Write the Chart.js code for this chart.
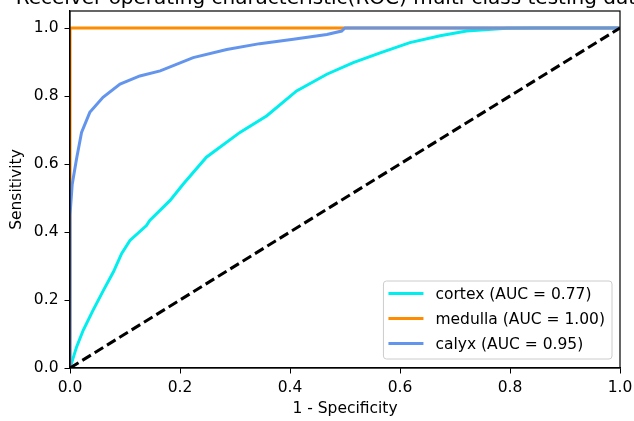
<!DOCTYPE html>
<html>
<head>
<meta charset="utf-8">
<script src="https://cdn.jsdelivr.net/npm/chart.js@4/dist/chart.umd.min.js"></script>
<style>
  body { margin: 0; background: #fff; }
  canvas { display: block; }
</style>
</head>
<body>
<canvas id="roc" width="634" height="421"></canvas>
<script>
// values
const xTickVals = [0, 0.2, 0.4, 0.6, 0.8, 1.0];
const yTickVals = [0, 0.2, 0.4, 0.6, 0.8, 1.0];

const cortexFpr = [0, 0.003, 0.012, 0.024, 0.042, 0.061, 0.079, 0.094, 0.109, 0.139, 0.145, 0.182, 0.206, 0.248, 0.309, 0.358, 0.412, 0.467, 0.515, 0.564, 0.618, 0.673, 0.721, 0.794, 0.85, 1.0];
const cortexTpr = [0, 0.015, 0.062, 0.111, 0.17, 0.229, 0.283, 0.337, 0.375, 0.419, 0.434, 0.493, 0.541, 0.62, 0.693, 0.742, 0.815, 0.864, 0.898, 0.927, 0.957, 0.977, 0.991, 0.999, 1.0, 1.0];

const medullaFpr = [0, 0, 1.0];
const medullaTpr = [0, 1.0, 1.0];

const calyxFpr = [0, 0, 0.004, 0.012, 0.021, 0.036, 0.06, 0.091, 0.127, 0.164, 0.224, 0.285, 0.345, 0.406, 0.467, 0.494, 0.50, 1.0];
const calyxTpr = [0, 0.45, 0.54, 0.616, 0.693, 0.752, 0.796, 0.835, 0.859, 0.874, 0.913, 0.937, 0.954, 0.967, 0.981, 0.991, 1.0, 1.0];

const chanceFpr = [0, 1];
const chanceTpr = [0, 1];

const labels = ["cortex (AUC = 0.77)", "medulla (AUC = 1.00)", "calyx (AUC = 0.95)"];
const titleText = "Receiver operating characteristic(ROC) multi-class testing data";

function pts(xs, ys) {
  return xs.map((x, i) => ({x: x, y: ys[i]}));
}

const FONT = "'DejaVu Sans', sans-serif";
const FS = 15.5;

// draws the clipped title, the box round the axes and the legend
const extras = {
  id: "extras",
  afterDraw(chart) {
    const ctx = chart.ctx;
    const a = chart.chartArea;
    ctx.save();
    // frame
    ctx.strokeStyle = "#000";
    ctx.lineWidth = 1.2;
    ctx.strokeRect(a.left, a.top, a.right - a.left, a.bottom - a.top);
    // title (top is cut off in the reference)
    ctx.fillStyle = "#000";
    ctx.font = "20px " + FONT;
    ctx.textAlign = "center";
    ctx.textBaseline = "alphabetic";
    ctx.fillText(titleText, (a.left + a.right) / 2 - 13, 4);
    // legend
    ctx.font = FS + "px " + FONT;
    const sets = chart.data.datasets.filter(d => d.inLegend);
    let tw = 0;
    sets.forEach(d => { tw = Math.max(tw, ctx.measureText(d.label).width); });
    const w = 52 + tw + 7, h = 78;
    const right = a.right - 8, bottom = a.bottom - 9;
    const left = right - w, top = bottom - h;
    ctx.beginPath();
    ctx.roundRect(left, top, w, h, 3);
    ctx.fillStyle = "rgba(255,255,255,0.8)";
    ctx.fill();
    ctx.strokeStyle = "#cccccc";
    ctx.lineWidth = 1;
    ctx.stroke();
    ctx.textAlign = "left";
    ctx.textBaseline = "middle";
    sets.forEach((d, i) => {
      const y = bottom - 15.5 - (sets.length - 1 - i) * 25;
      ctx.beginPath();
      ctx.moveTo(left + 5, y);
      ctx.lineTo(left + 40, y);
      ctx.strokeStyle = d.borderColor;
      ctx.lineWidth = 3;
      ctx.stroke();
      ctx.fillStyle = "#000";
      ctx.fillText(d.label, left + 52, y + 1);
    });
    ctx.restore();
  }
};

const lineStyle = {pointRadius: 0, borderWidth: 3, tension: 0, fill: false, clip: 0};

new Chart(document.getElementById("roc"), {
  type: "line",
  data: {
    datasets: [
      Object.assign({label: labels[0], data: pts(cortexFpr, cortexTpr), borderColor: "#00eeee", order: 3, inLegend: true}, lineStyle),
      Object.assign({label: labels[1], data: pts(medullaFpr, medullaTpr), borderColor: "#ff8c00", order: 2, inLegend: true}, lineStyle),
      Object.assign({label: labels[2], data: pts(calyxFpr, calyxTpr), borderColor: "#6495ed", order: 1, inLegend: true}, lineStyle),
      Object.assign({label: "chance", data: pts(chanceFpr, chanceTpr), borderColor: "#000", borderDash: [10, 4.5], order: 0}, lineStyle)
    ]
  },
  options: {
    responsive: false,
    animation: false,
    layout: {autoPadding: false, padding: {left: 0, right: 14, top: 11, bottom: 0}},
    plugins: {legend: {display: false}, tooltip: {enabled: false}},
    scales: {
      x: {
        type: "linear", min: 0, max: 1,
        afterBuildTicks: s => { s.ticks = xTickVals.map(v => ({value: v})); },
        afterFit: s => { s.height = 53; s.paddingLeft = 0; s.paddingRight = 0; },
        grid: {drawOnChartArea: false, drawTicks: true, tickLength: 5.5, color: "#000"},
        border: {display: true, color: "#000", width: 1.2},
        ticks: {padding: 5, color: "#000", maxRotation: 0, font: {family: FONT, size: FS}, callback: v => v.toFixed(1)},
        title: {display: true, text: "1 - Specificity", color: "#000", font: {family: FONT, size: FS}, padding: {top: 0, bottom: 2.5}}
      },
      y: {
        type: "linear", min: 0, max: 1.05,
        afterBuildTicks: s => { s.ticks = yTickVals.map(v => ({value: v})); },
        afterFit: s => { s.width = 70; s.paddingTop = 0; s.paddingBottom = 0; },
        grid: {drawOnChartArea: false, drawTicks: true, tickLength: 5.5, color: "#000"},
        border: {display: true, color: "#000", width: 1.2},
        ticks: {padding: 6, color: "#000", font: {family: FONT, size: FS}, callback: v => v.toFixed(1)},
        title: {display: true, text: "Sensitivity", color: "#000", font: {family: FONT, size: FS}, padding: {top: 7.5, bottom: 0}}
      }
    }
  },
  plugins: [extras]
});
</script>
</body>
</html>
